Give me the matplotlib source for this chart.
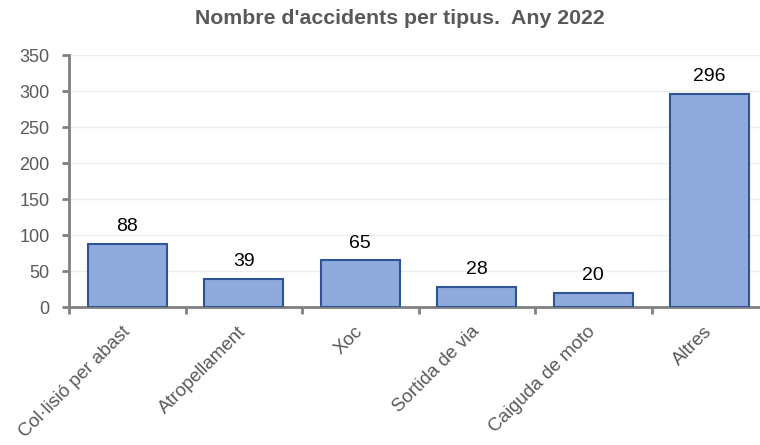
import numpy as np
import matplotlib
matplotlib.use("Agg")
import matplotlib.pyplot as plt

categories = ["Col·lisió per abast", "Atropellament", "Xoc", "Sortida de via",
              "Caiguda de moto", "Altres"]
counts = [88, 39, 65, 28, 20, 296]
yticks = [0, 50, 100, 150, 200, 250, 300, 350]

plt.rcParams["font.family"] = ["Liberation Sans", "DejaVu Sans"]

fig = plt.figure(figsize=(7.6, 4.45), dpi=100)
# plot area runs a little past the right edge of the picture, as in the original
ax = fig.add_axes([69 / 760, 138 / 445, (768 - 69) / 760, 252 / 445])

x = np.arange(len(categories))
ax.bar(x, counts, width=0.68, color="#8FAADC", edgecolor="#2F5597", linewidth=1.5, zorder=3)
for xi, v in zip(x, counts):
    ax.text(xi, v + 12, str(v), ha="center", va="bottom", fontsize=14, color="black")

ax.set_xlim(-0.5, 5.5)
ax.set_ylim(0, 350)
ax.set_yticks(yticks)
ax.set_yticklabels([str(t) for t in yticks], fontsize=13, color="#595959")
ax.grid(axis="y", color="#EEEEEE", linewidth=1, zorder=0)

ax.set_xticks(x)
ax.set_xticklabels(categories, rotation=45, ha="right", va="center", rotation_mode="anchor",
                   fontsize=13.5, color="#595959")
ax.tick_params(axis="x", length=0, pad=16)
ax.set_xticks(np.arange(len(categories) + 1) - 0.5, minor=True)
ax.tick_params(axis="x", which="minor", length=5, width=2, color="#808080")
ax.tick_params(axis="y", length=5, width=2, color="#808080", pad=9)

for s in ["top", "right"]:
    ax.spines[s].set_visible(False)
for s in ["left", "bottom"]:
    ax.spines[s].set_color("#808080")
    ax.spines[s].set_linewidth(2)

fig.text(400 / 760, 1 - 18 / 445, "Nombre d'accidents per tipus.  Any 2022", ha="center",
         va="center", fontsize=15.3, fontweight="bold", color="#595959")

fig.savefig("out.png", dpi=100)
